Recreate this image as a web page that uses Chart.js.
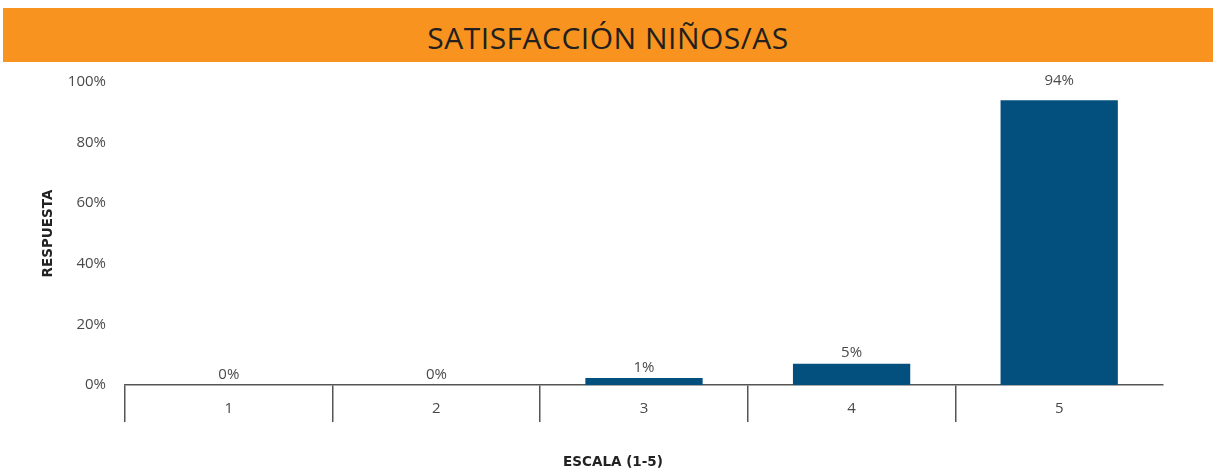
<!DOCTYPE html>
<html>
<head>
<meta charset="utf-8">
<script src="https://cdn.jsdelivr.net/npm/chart.js@4/dist/chart.umd.min.js"></script>
<style>
  html, body { margin: 0; padding: 0; background: #fff; }
  #wrap { position: relative; width: 1213px; height: 470px; }
  #banner {
    position: absolute; left: 3px; top: 8px; width: 1210px; height: 54px;
    box-sizing: border-box; padding-top: 5px;
    background: #F7931E; color: #231F20;
    font-family: "Open Sans", sans-serif; font-size: 30px;
    display: flex; align-items: center; justify-content: center;
    letter-spacing: 0.5px;
  }
  canvas { position: absolute; left: 0; top: 0; }
</style>
</head>
<body>
<div id="wrap">
  <canvas id="chart" width="1213" height="470"></canvas>
  <div id="banner">SATISFACCIÓN NIÑOS/AS</div>
</div>
<script>
// categories and values
const escala = ["1", "2", "3", "4", "5"];
const respuesta = [0, 0, 2.3, 7, 94];
const etiquetas = ["0%", "0%", "1%", "5%", "94%"];
const yTicks = [0, 20, 40, 60, 80, 100];

const titleFont = "bold 13.5px 'DejaVu Sans', sans-serif";

// labels above each bar + x axis title
const valueLabels = {
    id: "valueLabels",
    afterDatasetsDraw(chart) {
        const ctx = chart.ctx;
        const meta = chart.getDatasetMeta(0);
        ctx.save();
        ctx.font = "15px 'Open Sans', sans-serif";
        ctx.fillStyle = "#4a4a4a";
        ctx.textAlign = "center";
        ctx.textBaseline = "bottom";
        meta.data.forEach((bar, i) => {
            const gap = 3 + respuesta[i] * 0.095;
            ctx.fillText(etiquetas[i], bar.x, bar.y - gap);
        });
        // x title sits a bit left of centre in the original
        const xs = chart.scales.x;
        ctx.font = titleFont;
        ctx.fillStyle = "#222";
        ctx.textBaseline = "middle";
        ctx.fillText("ESCALA (1-5)", (xs.left + xs.right) / 2 - 31, 462);
        ctx.restore();
    }
};

new Chart(document.getElementById("chart"), {
    type: "bar",
    data: {
        labels: escala,
        datasets: [{
            label: "Respuesta",
            data: respuesta,
            backgroundColor: "#03507F",
            categoryPercentage: 1,
            barPercentage: 0.565
        }]
    },
    options: {
        responsive: false,
        animation: false,
        layout: { padding: { top: 82, right: 50, bottom: 0, left: 0 } },
        plugins: {
            legend: { display: false },
            tooltip: { enabled: false }
        },
        scales: {
            x: {
                offset: true,
                border: { display: true, color: "#555", width: 1.5 },
                grid: {
                    offset: true,
                    drawOnChartArea: false,
                    drawTicks: true,
                    tickLength: 37,
                    lineWidth: 1.5,
                    color: (c) => c.type === "tick" ? "#555" : "rgba(0,0,0,0)"
                },
                ticks: {
                    padding: -22,
                    color: "#4a4a4a",
                    font: { family: "'Open Sans', sans-serif", size: 15 }
                },
                afterFit: (s) => { s.height = 85; }
            },
            y: {
                min: 0,
                max: 100,
                border: { display: false },
                grid: { display: false, drawTicks: false },
                afterBuildTicks: (s) => { s.ticks = yTicks.map(v => ({ value: v })); },
                ticks: {
                    padding: 19,
                    color: "#4a4a4a",
                    font: { family: "'Open Sans', sans-serif", size: 15 },
                    callback: (v) => v + "%"
                },
                title: {
                    display: true,
                    text: "RESPUESTA",
                    color: "#222",
                    font: { family: "'DejaVu Sans', sans-serif", size: 13.5, weight: "bold" },
                    padding: { top: 40, bottom: 0 }
                },
                afterFit: (s) => { s.width = 125; }
            }
        }
    },
    plugins: [valueLabels]
});
</script>
</body>
</html>
